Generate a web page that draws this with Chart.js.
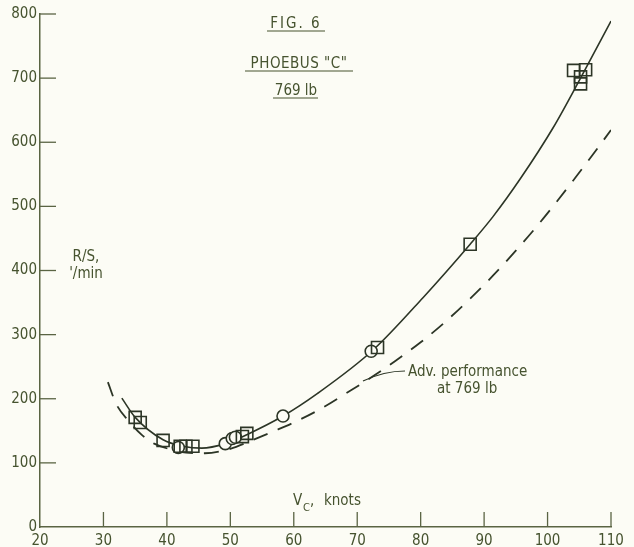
<!DOCTYPE html>
<html>
<head>
<meta charset="utf-8">
<script src="https://cdn.jsdelivr.net/npm/chart.js@4"></script>
<style>
  html, body { margin: 0; padding: 0; background: #fcfcf5; }
  #wrap { width: 634px; height: 547px; }
</style>
</head>
<body>
<div id="wrap"><canvas id="chart" width="634" height="547"></canvas></div>
<script>
// values (V_c in knots, R/S in ft/min)
const xTicks = [20, 30, 40, 50, 60, 70, 80, 90, 100, 110];
const yTicks = [0, 100, 200, 300, 400, 500, 600, 700, 800];

const fitX = [32.9, 35.0, 39.4, 42.5, 45.5, 49.2, 52.6, 58.3, 63.7, 72.5, 80.4, 87.8, 91.4, 95.7, 100.9, 105.2, 110.0];
const fitY = [201, 171, 136, 126, 123, 130, 144, 173, 208, 276, 358, 441, 484, 543, 623, 700, 789];

const advX = [30.7, 32.0, 34.0, 36.0, 38.0, 41.0, 43.0, 46.0, 50.0, 53.6, 57.0, 60.0, 64.0, 68.0, 72.0, 76.0, 80.0, 84.0, 88.0, 91.5, 95.0, 98.4, 101.5, 104.4, 107.0, 110.0];
const advY = [226, 192, 165, 144, 130, 120, 116, 115, 122, 136, 150, 163, 183, 207, 232, 259, 288, 321, 358, 393, 431, 470, 508, 545, 579, 619];

const squareX = [35.0, 35.8, 39.4, 42.1, 43.0, 44.1, 51.9, 52.6, 73.2, 87.8, 104.1, 106.0, 105.2, 105.2];
const squareY = [171, 163, 135, 126, 126, 126, 141, 146, 280, 441, 712, 713, 702, 691];

const circleX = [41.8, 49.2, 50.3, 50.8, 58.3, 72.2];
const circleY = [124, 130, 138, 140, 173, 274];

const pts = (xs, ys) => xs.map((x, i) => ({ x: x, y: ys[i] }));

const ink = "#2c3526";
const textInk = "#46532f";
const narrow = "'DejaVu Sans Condensed', 'Liberation Sans Narrow', sans-serif";

const decorations = {
  id: "decorations",
  beforeDatasetsDraw(chart) {
    const ctx = chart.ctx;
    const xs = chart.scales.x, ys = chart.scales.y;
    ctx.save();
    ctx.strokeStyle = "#5a6443";
    ctx.lineWidth = 1.3;
    // tick marks pointing into the plot
    xTicks.slice(1).forEach(v => {
      const px = xs.getPixelForValue(v);
      ctx.beginPath();
      ctx.moveTo(px, ys.bottom);
      ctx.lineTo(px, ys.bottom - 15);
      ctx.stroke();
    });
    yTicks.slice(1).forEach(v => {
      const py = ys.getPixelForValue(v);
      ctx.beginPath();
      ctx.moveTo(xs.left, py);
      ctx.lineTo(xs.left + 16, py);
      ctx.stroke();
    });
    ctx.restore();
  },
  afterDraw(chart) {
    const ctx = chart.ctx;
    ctx.save();
    ctx.fillStyle = textInk;
    ctx.strokeStyle = textInk;
    ctx.lineWidth = 1.2;

    // figure heading
    ctx.textAlign = "center";
    ctx.font = "15px " + narrow;
    ctx.letterSpacing = "2px";
    ctx.fillText("FIG. 6", 296, 28);
    ctx.letterSpacing = "0.5px";
    ctx.fillText("PHOEBUS \"C\"", 299, 68);
    ctx.letterSpacing = "0px";
    ctx.fillText("769 lb", 296, 95);
    [[267, 325, 31], [245, 353, 71], [273, 318, 98]].forEach(u => {
      ctx.beginPath();
      ctx.moveTo(u[0], u[2]);
      ctx.lineTo(u[1], u[2]);
      ctx.stroke();
    });

    // axis titles
    ctx.font = "15px " + narrow;
    ctx.fillText("R/S,", 86, 261);
    ctx.fillText("'/min", 86, 278);
    ctx.textAlign = "left";
    ctx.fillText("V", 293, 505);
    ctx.font = "11px " + narrow;
    ctx.fillText("C", 303, 511);
    ctx.font = "15px " + narrow;
    ctx.fillText(",", 310, 505);
    ctx.fillText("knots", 324, 505);

    // annotation for the dashed curve
    ctx.font = "15px " + narrow;
    ctx.fillText("Adv. performance", 408, 376);
    ctx.fillText("at 769 lb", 437, 393);
    ctx.strokeStyle = ink;
    ctx.beginPath();
    ctx.moveTo(363, 381);
    ctx.quadraticCurveTo(384, 371, 405, 371);
    ctx.stroke();
    ctx.restore();
  }
};

new Chart(document.getElementById("chart"), {
  type: "scatter",
  data: {
    datasets: [
      {
        label: "Test points (squares)",
        data: pts(squareX, squareY),
        pointStyle: "rect",
        pointRadius: 8.5,
        borderColor: ink,
        backgroundColor: "rgba(0,0,0,0)",
        borderWidth: 1.6
      },
      {
        label: "Test points (circles)",
        data: pts(circleX, circleY),
        pointStyle: "circle",
        pointRadius: 6,
        borderColor: ink,
        backgroundColor: "#fcfcf5",
        borderWidth: 1.6
      },
      {
        label: "Fitted curve",
        data: pts(fitX, fitY),
        showLine: true,
        cubicInterpolationMode: "monotone",
        pointRadius: 0,
        borderColor: ink,
        borderWidth: 1.6
      },
      {
        label: "Adv. performance at 769 lb",
        data: pts(advX, advY),
        showLine: true,
        cubicInterpolationMode: "monotone",
        pointRadius: 0,
        borderColor: ink,
        borderWidth: 1.8,
        borderDash: [15, 11]
      }
    ]
  },
  options: {
    responsive: false,
    animation: false,
    layout: { padding: { top: 14, right: 23, left: 0, bottom: 0 } },
    plugins: { legend: { display: false }, tooltip: { enabled: false } },
    scales: {
      x: {
        type: "linear",
        min: 20,
        max: 110,
        afterBuildTicks: s => { s.ticks = xTicks.map(v => ({ value: v })); },
        afterFit: s => { s.height = 20; },
        grid: { display: false, drawTicks: false },
        border: { color: "#5a6443", width: 1.5 },
        ticks: { color: textInk, padding: 5, font: { family: narrow, size: 15 } }
      },
      y: {
        type: "linear",
        min: 0,
        max: 800,
        afterBuildTicks: s => { s.ticks = yTicks.map(v => ({ value: v })); },
        afterFit: s => { s.width = 40; },
        grid: { display: false, drawTicks: false },
        border: { color: "#5a6443", width: 1.5 },
        ticks: { color: textInk, padding: 3, font: { family: narrow, size: 15 } }
      }
    }
  },
  plugins: [decorations]
});
</script>
</body>
</html>
